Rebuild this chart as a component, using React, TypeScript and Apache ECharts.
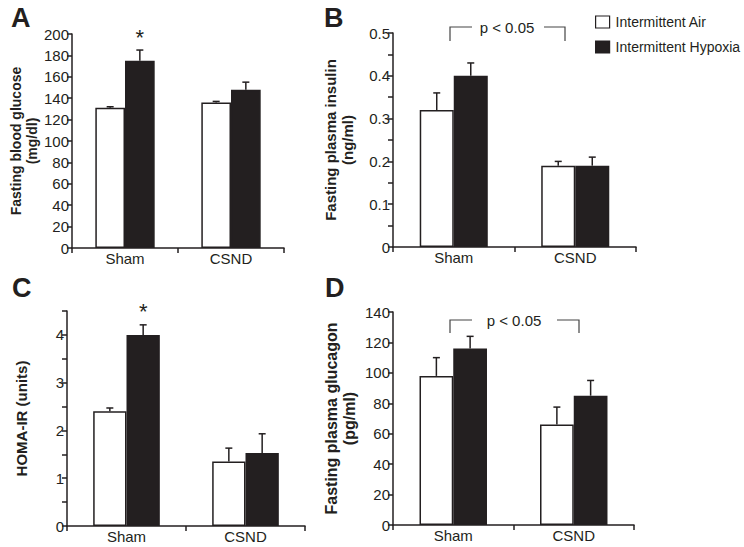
import React, { useEffect, useRef } from "react";
import * as echarts from "echarts";

const categories = ["Sham", "CSND"];

// Panel A: fasting blood glucose (mg/dl)
const glucoseAir = [131, 136];
const glucoseAirSem = [1, 1];
const glucoseHyp = [175, 148];
const glucoseHypSem = [10, 7];
const glucoseSig = [1, 0];

// Panel B: fasting plasma insulin (ng/ml)
const insulinAir = [0.32, 0.19];
const insulinAirSem = [0.04, 0.01];
const insulinHyp = [0.4, 0.19];
const insulinHypSem = [0.03, 0.02];
const insulinSig = [0, 0];

// Panel C: HOMA-IR (units)
const homaAir = [2.4, 1.35];
const homaAirSem = [0.07, 0.28];
const homaHyp = [4.0, 1.53];
const homaHypSem = [0.21, 0.4];
const homaSig = [1, 0];

// Panel D: fasting plasma glucagon (pg/ml)
const glucagonAir = [98, 66];
const glucagonAirSem = [12, 11.5];
const glucagonHyp = [116, 85];
const glucagonHypSem = [8, 10];
const glucagonSig = [0, 0];

const INK = "#231f20";
const FONT = '"Liberation Sans", Arial, sans-serif';
const BAR_FRAC = 0.28;

function errorSeries(gi: number, values: number[], sems: number[], sigs: number[], side: number) {
  return {
    type: "custom",
    xAxisIndex: gi,
    yAxisIndex: gi,
    z: 5,
    silent: true,
    data: values.map((v, i) => [i, v, sems[i], sigs[i]]),
    renderItem: (params: any, api: any) => {
      const x = api.value(0);
      const v = api.value(1);
      const e = api.value(2);
      const sig = api.value(3);
      const band = api.size([1, 0])[0];
      const bw = band * BAR_FRAC;
      const base = api.coord([x, v]);
      const top = api.coord([x, v + e]);
      const cx = base[0] + (side * bw) / 2;
      const children: any[] = [
        {
          type: "line",
          shape: { x1: cx, y1: base[1], x2: cx, y2: top[1] },
          style: { stroke: INK, lineWidth: 1.5 },
        },
        {
          type: "line",
          shape: { x1: cx - 3.5, y1: top[1], x2: cx + 3.5, y2: top[1] },
          style: { stroke: INK, lineWidth: 1.5 },
        },
      ];
      if (sig) {
        children.push({
          type: "text",
          x: cx,
          y: top[1] - 2,
          style: {
            text: "*",
            font: `22px ${FONT}`,
            fill: INK,
            align: "center",
            verticalAlign: "bottom",
          },
        });
      }
      return { type: "group", children };
    },
  };
}

function barSeries(gi: number, name: string, values: number[], fill: string) {
  return {
    type: "bar",
    name,
    xAxisIndex: gi,
    yAxisIndex: gi,
    data: values,
    barWidth: "28%",
    barGap: "0%",
    itemStyle: { color: fill, borderColor: INK, borderWidth: 1.5 },
  };
}

function xAxis(gi: number) {
  return {
    type: "category",
    gridIndex: gi,
    data: categories,
    axisLine: { lineStyle: { color: INK, width: 1.5 } },
    axisTick: { show: true, length: 5, lineStyle: { color: INK, width: 1.5 } },
    axisLabel: { fontSize: 15, color: INK, fontFamily: FONT, margin: 3 },
  };
}

function yAxis(
  gi: number,
  max: number,
  interval: number,
  name: string,
  nameGap: number,
  nameSize: number,
  fmt?: (v: number) => string
) {
  return {
    type: "value",
    gridIndex: gi,
    min: 0,
    max,
    interval,
    name,
    nameLocation: "middle",
    nameRotate: 90,
    nameGap,
    nameTextStyle: {
      fontSize: nameSize,
      fontWeight: "bold",
      color: INK,
      fontFamily: FONT,
      lineHeight: nameSize + 2,
    },
    axisLine: { show: true, lineStyle: { color: INK, width: 1.5 } },
    axisTick: { show: true, length: 5, lineStyle: { color: INK, width: 1.5 } },
    axisLabel: { fontSize: 15, color: INK, fontFamily: FONT, margin: 3, formatter: fmt },
    splitLine: { show: false },
  };
}

function bracket(x1: number, x2: number, yTop: number, yBot: number, tx: number, gapL: number, gapR: number) {
  return [
    {
      type: "polyline",
      shape: { points: [[x1, yBot], [x1, yTop], [gapL, yTop]] },
      style: { stroke: "#444", lineWidth: 1.2, fill: "none" },
    },
    {
      type: "polyline",
      shape: { points: [[gapR, yTop], [x2, yTop], [x2, yBot]] },
      style: { stroke: "#444", lineWidth: 1.2, fill: "none" },
    },
    {
      type: "text",
      x: tx,
      y: yTop,
      style: { text: "p < 0.05", font: `15px ${FONT}`, fill: INK, align: "center", verticalAlign: "middle" },
    },
  ];
}

function panelLetter(t: string, x: number, y: number) {
  return {
    type: "text",
    x,
    y,
    style: { text: t, font: `bold 27px ${FONT}`, fill: INK, verticalAlign: "top" },
  };
}

export default function App() {
  const ref = useRef<HTMLDivElement>(null);
  useEffect(() => {
    if (!ref.current) return;
    const chart = echarts.init(ref.current, undefined, { renderer: "svg" });
    const fmtB = (v: number) => {
      const r = Math.round(v * 100);
      return r % 10 === 0 ? String(r / 100) : "";
    };
    const fmtC = (v: number) => (Math.abs(v - Math.round(v)) < 1e-9 ? String(Math.round(v)) : "");
    chart.setOption({
      animation: false,
      backgroundColor: "#fff",
      textStyle: { fontFamily: FONT },
      grid: [
        { left: 72, top: 34, width: 212, height: 214 },
        { left: 393, top: 33, width: 243, height: 214 },
        { left: 67, top: 311, width: 238, height: 215 },
        { left: 393, top: 312, width: 241, height: 213 },
      ],
      xAxis: [xAxis(0), xAxis(1), xAxis(2), xAxis(3)],
      yAxis: [
        yAxis(0, 200, 20, "Fasting blood glucose\n(mg/dl)", 25, 14),
        yAxis(1, 0.5, 0.05, "Fasting plasma insulin\n(ng/ml)", 37, 15, fmtB),
        yAxis(2, 4.5, 0.5, "HOMA-IR (units)", 37, 15, fmtC),
        yAxis(3, 140, 20, "Fasting plasma glucagon\n(pg/ml)", 35, 16),
      ],
      legend: {
        orient: "vertical",
        left: 595,
        top: 15,
        padding: 0,
        itemWidth: 14,
        itemHeight: 12,
        itemGap: 11,
        selectedMode: false,
        textStyle: { fontSize: 14, color: INK, fontFamily: FONT, padding: [0, 0, 0, 1] },
        data: [
          { name: "Intermittent Air", icon: "rect", itemStyle: { color: "#fff", borderColor: INK, borderWidth: 1.2 } },
          { name: "Intermittent Hypoxia", icon: "rect", itemStyle: { color: INK, borderColor: INK, borderWidth: 1.2 } },
        ],
      },
      graphic: [
        panelLetter("A", 11, 4),
        panelLetter("B", 324, 4),
        panelLetter("C", 12, 274),
        panelLetter("D", 325, 274),
        ...bracket(450, 565, 27, 41, 507, 472, 544),
        ...bracket(450, 579, 320, 333, 514, 472, 557),
      ],
      series: [
        barSeries(0, "Intermittent Air", glucoseAir, "#fff"),
        barSeries(0, "Intermittent Hypoxia", glucoseHyp, INK),
        errorSeries(0, glucoseAir, glucoseAirSem, [0, 0], -1),
        errorSeries(0, glucoseHyp, glucoseHypSem, glucoseSig, 1),
        barSeries(1, "Intermittent Air", insulinAir, "#fff"),
        barSeries(1, "Intermittent Hypoxia", insulinHyp, INK),
        errorSeries(1, insulinAir, insulinAirSem, [0, 0], -1),
        errorSeries(1, insulinHyp, insulinHypSem, insulinSig, 1),
        barSeries(2, "Intermittent Air", homaAir, "#fff"),
        barSeries(2, "Intermittent Hypoxia", homaHyp, INK),
        errorSeries(2, homaAir, homaAirSem, [0, 0], -1),
        errorSeries(2, homaHyp, homaHypSem, homaSig, 1),
        barSeries(3, "Intermittent Air", glucagonAir, "#fff"),
        barSeries(3, "Intermittent Hypoxia", glucagonHyp, INK),
        errorSeries(3, glucagonAir, glucagonAirSem, [0, 0], -1),
        errorSeries(3, glucagonHyp, glucagonHypSem, glucagonSig, 1),
      ],
    });
    return () => chart.dispose();
  }, []);
  return (
    <div
      ref={ref}
      style={{ position: "fixed", left: 0, top: 0, width: 744, height: 547, background: "#fff" }}
    />
  );
}
